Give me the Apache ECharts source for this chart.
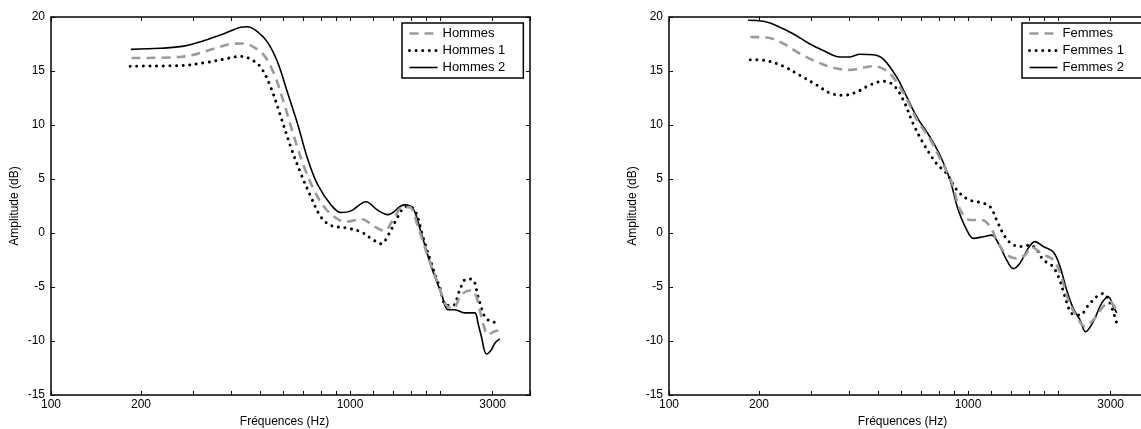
<!DOCTYPE html>
<html>
<head>
<meta charset="utf-8">
<script src="https://cdn.jsdelivr.net/npm/echarts@6/dist/echarts.min.js"></script>
<style>
html,body{margin:0;padding:0;background:#fff;}
#chart{width:1141px;height:429px;}
</style>
</head>
<body>
<div id="chart"></div>
<script>
// ---- Data (frequency in Hz, amplitude in dB) ----
const hommesF  = [186, 271, 350, 399, 442, 477, 516, 557, 602, 650, 703, 759, 820, 886, 957, 1008, 1089, 1206, 1304, 1391, 1502, 1581, 1687, 1823, 1970, 2100, 2212, 2358, 2547, 2647, 2788, 2897, 3050, 3195];
const hommesV  = [16.2, 16.3, 17.05, 17.5, 17.55, 17.2, 16.45, 14.75, 12.0, 8.9, 6.1, 3.95, 2.4, 1.5, 1.05, 1.1, 1.3, 0.6, 0.2, 1.2, 2.4, 2.4, 0.6, -2.2, -4.7, -6.7, -7.0, -5.7, -5.3, -5.9, -8.4, -9.4, -9.1, -9.0];
const hommes1F = [184, 271, 333, 379, 431, 465, 503, 543, 587, 634, 685, 740, 799, 863, 982, 1089, 1176, 1271, 1355, 1445, 1541, 1644, 1754, 1870, 1994, 2100, 2212, 2327, 2451, 2580, 2682, 2823, 2973, 3195];
const hommes1V = [15.45, 15.5, 15.8, 16.1, 16.35, 16.1, 15.35, 13.5, 10.75, 7.95, 5.5, 3.35, 1.5, 0.7, 0.45, 0.1, -0.5, -1.0, 0.0, 1.5, 2.45, 2.15, -0.35, -2.8, -5.0, -6.7, -6.7, -5.3, -4.25, -4.35, -5.9, -7.75, -8.2, -8.3];
const hommes2F = [185, 232, 278, 324, 379, 431, 454, 490, 529, 572, 618, 668, 721, 779, 864, 933, 1008, 1131, 1239, 1338, 1521, 1623, 1731, 1870, 2021, 2128, 2239, 2418, 2613, 2682, 2752, 2860, 2973, 3050, 3170];
const hommes2V = [17.0, 17.1, 17.3, 17.8, 18.45, 19.05, 19.1, 18.65, 17.7, 15.85, 13.0, 10.1, 6.9, 4.5, 2.6, 1.9, 2.05, 2.9, 2.1, 1.7, 2.6, 2.3, 0.0, -3.1, -5.6, -7.1, -7.1, -7.4, -7.4, -8.4, -9.6, -11.2, -10.8, -10.2, -9.8];

const femmesF  = [187, 212, 241, 274, 312, 354, 403, 446, 482, 521, 563, 624, 674, 746, 806, 882, 940, 1016, 1111, 1185, 1263, 1347, 1455, 1551, 1633, 1764, 1929, 2031, 2165, 2310, 2462, 2625, 2835, 2985, 3143];
const femmesV  = [18.15, 18.1, 17.55, 16.6, 15.85, 15.3, 15.1, 15.3, 15.45, 15.2, 14.4, 12.4, 10.5, 8.7, 6.9, 4.7, 2.2, 1.2, 1.2, 0.6, -0.95, -2.0, -2.35, -2.05, -1.3, -1.9, -2.5, -3.7, -6.2, -7.75, -8.65, -8.05, -6.8, -6.35, -7.3];
const femmes1F = [187, 212, 241, 274, 312, 346, 383, 424, 470, 521, 563, 608, 656, 709, 786, 849, 917, 1002, 1111, 1185, 1247, 1330, 1418, 1531, 1612, 1698, 1786, 1905, 2004, 2111, 2223, 2369, 2525, 2694, 2835, 2985, 3143];
const femmes1V = [16.05, 15.95, 15.45, 14.6, 13.7, 12.95, 12.75, 13.05, 13.7, 14.05, 13.7, 12.3, 10.1, 8.3, 6.4, 5.5, 4.0, 3.1, 2.8, 2.45, 1.2, -0.35, -1.1, -1.25, -1.1, -1.55, -2.5, -3.0, -4.0, -5.9, -7.45, -7.6, -6.7, -5.9, -5.6, -6.5, -8.35];
const femmes2F = [184, 207, 229, 260, 296, 328, 373, 403, 435, 482, 521, 577, 624, 674, 746, 806, 871, 928, 990, 1041, 1125, 1200, 1263, 1347, 1418, 1492, 1591, 1675, 1786, 1929, 2031, 2139, 2250, 2369, 2475, 2625, 2801, 2946, 3062, 3143];
const femmes2V = [19.7, 19.6, 19.2, 18.45, 17.5, 16.9, 16.3, 16.3, 16.55, 16.5, 16.1, 14.45, 12.6, 10.75, 8.9, 7.2, 4.9, 2.1, 0.3, -0.5, -0.35, -0.2, -0.95, -2.5, -3.3, -2.8, -1.4, -0.8, -1.25, -1.75, -3.1, -5.3, -7.0, -8.05, -9.15, -8.2, -6.5, -5.9, -6.8, -7.4];

const xTickValues  = [100, 200, 300, 400, 500, 600, 700, 800, 900, 1000, 1200, 1400, 1600, 1800, 2000, 3000, 4000];
const xLabelValues = [100, 200, 1000, 3000];
const xMin = 100, xMax = 4000;
const yMin = -15, yMax = 20, yStep = 5;

const legendHommes = ['Hommes', 'Hommes 1', 'Hommes 2'];
const legendFemmes = ['Femmes', 'Femmes 1', 'Femmes 2'];

// ---- Styles ----
const FONT = "'Liberation Sans', Arial, sans-serif";
const GRAY = '#9b9b9b';
const styles = [
  { color: GRAY, width: 2.6, type: [9, 6], cap: 'butt' },
  { color: '#000', width: 3, type: [0.01, 6.6], cap: 'round' },
  { color: '#000', width: 1.6, type: 'solid', cap: 'butt' }
];

function zip(f, v) { return f.map((x, i) => [x, v[i]]); }

const grids = [
  { left: 51, top: 17, width: 479, height: 378, containLabel: false, outerBoundsMode: 'none' },
  { left: 669, top: 17, width: 479, height: 378, containLabel: false, outerBoundsMode: 'none' }
];

const axisLine = { show: true, onZero: false, lineStyle: { color: '#000', width: 1.5 } };
const tickStyle = { show: true, inside: true, length: 4, lineStyle: { color: '#000', width: 1 } };

const xAxes = [], yAxes = [];
[0, 1].forEach(g => {
  xAxes.push({
    type: 'log', logBase: 10, min: xMin, max: xMax, gridIndex: g, position: 'bottom',
    axisLine: axisLine,
    axisTick: Object.assign({ customValues: xTickValues }, tickStyle),
    axisLabel: { customValues: xLabelValues, formatter: v => String(v), color: '#000', fontSize: 12, fontFamily: FONT, margin: 4 },
    splitLine: { show: false }, minorTick: { show: false },
    name: 'Fréquences (Hz)', nameLocation: 'middle', nameGap: 20,
    nameTextStyle: { color: '#000', fontSize: 12, fontFamily: FONT, padding: [0, 12, 0, 0] }
  });
  xAxes.push({
    type: 'log', logBase: 10, min: xMin, max: xMax, gridIndex: g, position: 'top',
    axisLine: axisLine,
    axisTick: Object.assign({ customValues: xTickValues }, tickStyle),
    axisLabel: { show: false },
    splitLine: { show: false }, minorTick: { show: false }
  });
  yAxes.push({
    type: 'value', min: yMin, max: yMax, interval: yStep, gridIndex: g, position: 'left',
    axisLine: axisLine, axisTick: tickStyle,
    axisLabel: { color: '#000', fontSize: 12, fontFamily: FONT, margin: 6 },
    splitLine: { show: false },
    name: 'Amplitude (dB)', nameLocation: 'middle', nameGap: 30, nameRotate: 90,
    nameTextStyle: { color: '#000', fontSize: 12, fontFamily: FONT }
  });
  yAxes.push({
    type: 'value', min: yMin, max: yMax, interval: yStep, gridIndex: g, position: 'right',
    axisLine: axisLine, axisTick: tickStyle,
    axisLabel: { show: false }, splitLine: { show: false }
  });
});

const seriesSets = [
  { names: legendHommes, data: [zip(hommesF, hommesV), zip(hommes1F, hommes1V), zip(hommes2F, hommes2V)] },
  { names: legendFemmes, data: [zip(femmesF, femmesV), zip(femmes1F, femmes1V), zip(femmes2F, femmes2V)] }
];

const series = [];
seriesSets.forEach((set, g) => {
  set.names.forEach((name, k) => {
    const s = styles[k];
    series.push({
      type: 'line', name: name, data: set.data[k],
      xAxisIndex: g * 2, yAxisIndex: g * 2,
      smooth: 0.35, showSymbol: false, symbol: 'none',
      lineStyle: { color: s.color, width: s.width, type: s.type, cap: s.cap },
      itemStyle: { color: s.color },
      emphasis: { disabled: true }, silent: true,
      z: 3 - k
    });
  });
});

function legendFor(names, left) {
  return {
    show: true, left: left, top: 23, orient: 'vertical',
    data: names.map((n, k) => ({
      name: n,
      itemStyle: { opacity: 0 },
      lineStyle: { color: styles[k].color, width: styles[k].width, type: styles[k].type, cap: styles[k].cap }
    })),
    itemWidth: 28, itemHeight: 13, itemGap: 4,
    padding: [4, 18, 4, 6],
    borderColor: '#000', borderWidth: 1.5, backgroundColor: '#fff', borderRadius: 0,
    textStyle: { color: '#000', fontSize: 13, fontFamily: FONT },
    selectedMode: false, inactiveColor: '#000'
  };
}

const chart = echarts.init(document.getElementById('chart'), null, { renderer: 'canvas' });
chart.setOption({
  animation: false,
  backgroundColor: '#fff',
  grid: grids,
  xAxis: xAxes,
  yAxis: yAxes,
  legend: [legendFor(legendHommes, 402), legendFor(legendFemmes, 1022)],
  series: series
});
</script>
</body>
</html>
